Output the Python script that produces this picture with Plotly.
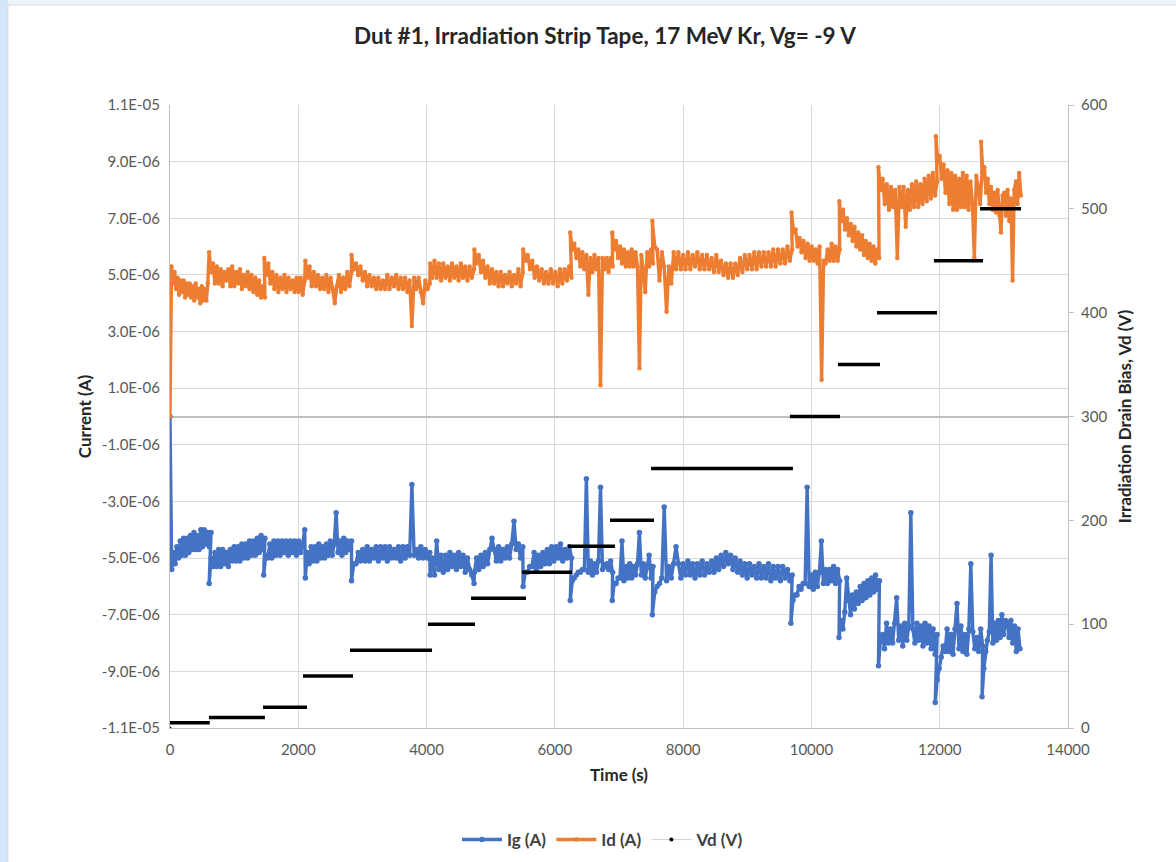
import numpy as np
import plotly.graph_objects as go

# ---------------- data (currents in units of 1E-06 A) ----------------
ID_START = [0, 610, 1470, 2110, 2830, 4055, 4745, 5505, 6240, 6895, 7520, 9690, 10435, 11045, 11940, 12645]
ID_END = [590, 1480, 2100, 2830, 4050, 4740, 5500, 6260, 6900, 7530, 9700, 10440, 11055, 11960, 12660, 13265]
ID_VALUES = [
    [0.0, 5.3, 4.7, 5.1, 4.5, 4.9, 4.3, 4.8, 4.4, 4.8, 4.2, 4.7, 4.3, 4.7, 4.2, 4.6, 4.1, 4.7, 4.2, 4.5, 4.0, 4.6, 4.1, 4.5, 4.1, 4.7],
    [5.8, 5.1, 5.4, 4.7, 5.3, 4.7, 5.2, 4.6, 5.1, 4.8, 5.2, 4.6, 5.3, 4.6, 5.1, 4.7, 5.2, 4.5, 5.0, 4.6, 5.1, 4.5, 5.0, 4.4, 4.9, 4.3, 4.8, 4.2, 4.6, 4.2],
    [5.6, 5.0, 5.4, 4.7, 5.1, 4.5, 5.0, 4.4, 4.9, 4.5, 5.0, 4.4, 4.9, 4.5, 4.8, 4.4, 4.9, 4.4, 4.9, 4.3, 4.8],
    [5.5, 4.9, 5.3, 4.6, 5.1, 4.6, 5.0, 4.5, 4.9, 4.5, 5.0, 4.4, 4.9, 4.5, 4.0, 4.6, 5.0, 4.4, 4.9, 4.5, 5.1, 4.6, 5.1],
    [5.7, 5.2, 5.4, 5.0, 5.3, 4.8, 5.1, 4.6, 5.0, 4.6, 4.9, 4.5, 4.9, 4.5, 4.8, 4.5, 5.0, 4.5, 4.9, 4.6, 5.0, 4.5, 4.9, 4.5, 4.9, 4.4, 4.8, 3.2, 4.9, 4.5, 4.9, 4.4, 4.0, 4.8, 4.5, 4.7],
    [5.4, 4.9, 5.5, 4.9, 5.4, 4.8, 5.4, 4.9, 5.3, 4.8, 5.4, 4.9, 5.3, 4.8, 5.4, 4.9, 5.3, 4.8, 5.3, 4.9, 5.2],
    [5.9, 5.4, 5.7, 5.1, 5.5, 4.9, 5.3, 4.7, 5.2, 4.7, 5.1, 4.6, 5.1, 4.6, 5.0, 4.7, 5.1, 4.6, 5.0, 4.7, 5.2, 4.6, 5.1],
    [5.9, 5.5, 5.7, 5.2, 5.5, 4.9, 5.3, 4.8, 5.2, 4.7, 5.1, 4.7, 5.2, 4.7, 5.1, 4.6, 5.2, 4.7, 5.2, 4.8, 5.3, 4.9],
    [6.5, 5.9, 6.1, 5.6, 5.9, 5.3, 5.8, 5.2, 5.7, 4.3, 5.6, 5.1, 5.7, 5.2, 5.6, 1.1, 5.6, 5.2, 5.6, 5.1, 5.6, 5.3],
    [6.5, 5.9, 6.2, 5.6, 6.0, 5.4, 5.9, 5.3, 5.8, 5.3, 5.9, 5.3, 5.8, 5.3, 1.7, 5.7, 5.2, 4.4, 5.8, 5.3, 5.9, 5.4],
    [6.9, 6.0, 5.9, 4.8, 5.8, 5.3, 3.7, 5.3, 4.7, 5.8, 5.2, 5.8, 5.2, 5.7, 5.2, 5.8, 5.2, 5.7, 5.3, 5.8, 5.2, 5.7, 5.2, 5.7, 5.2, 5.6, 5.1, 5.7, 5.1, 5.5,
     5.0, 5.4, 4.9, 5.4, 4.9, 5.4, 5.0, 5.6, 5.1, 5.7, 5.2, 5.7, 5.2, 5.8, 5.2, 5.8, 5.3, 5.8, 5.3, 5.8, 5.3, 5.9, 5.3, 5.9, 5.4, 5.9, 5.4, 6.0, 5.5, 5.9],
    [7.2, 6.5, 6.6, 6.0, 6.3, 5.8, 6.2, 5.6, 6.1, 5.5, 6.0, 5.5, 5.9, 5.4, 6.0, 1.3, 5.5, 5.4, 5.9, 5.5, 6.1, 5.5, 6.0, 5.5, 5.9],
    [7.6, 6.9, 7.3, 6.6, 7.0, 6.4, 6.8, 6.2, 6.7, 6.0, 6.5, 5.9, 6.4, 5.7, 6.2, 5.6, 6.1, 5.5, 6.0, 5.4, 5.9, 5.6],
    [8.8, 8.0, 8.4, 7.5, 8.2, 7.3, 8.1, 7.4, 8.0, 5.6, 8.1, 7.4, 8.1, 6.7, 8.0, 7.3, 8.2, 7.4, 8.3, 7.4, 8.2, 7.5, 8.4, 7.6, 8.5, 7.7, 8.6, 7.8, 8.3],
    [9.9, 9.0, 9.2, 8.4, 8.9, 7.9, 8.7, 7.5, 8.6, 7.3, 8.5, 7.3, 8.4, 7.4, 8.6, 7.4, 8.5, 7.3, 8.3, 7.5, 5.6, 8.5, 8.1, 7.5, 8.6],
    [9.7, 8.7, 8.8, 7.9, 8.4, 7.5, 8.1, 7.3, 7.9, 7.2, 8.0, 7.1, 6.5, 7.8, 7.9, 7.1, 8.0, 6.9, 7.7, 4.8, 8.0, 8.3, 7.5, 8.6, 7.8],
]

IG_START = [0, 610, 1460, 2110, 2830, 4055, 4745, 5505, 6240, 6895, 7520, 9680, 10430, 11045, 11930, 12660]
IG_END = [640, 1480, 2100, 2830, 4050, 4740, 5500, 6260, 6900, 7530, 9700, 10440, 11060, 11960, 12670, 13250]
IG_VALUES = [
    [0.0, -5.4, -4.8, -5.2, -4.6, -5.0, -4.4, -4.9, -4.3, -4.9, -4.3, -4.8, -4.2, -4.7, -4.1, -4.7, -4.2, -4.7, -4.0, -4.6, -4.0, -4.5, -4.1, -4.6, -4.1],
    [-5.9, -5.0, -5.3, -4.8, -5.3, -4.7, -5.3, -4.7, -5.2, -4.8, -5.3, -4.7, -5.1, -4.6, -5.1, -4.6, -5.1, -4.5, -5.0, -4.5, -5.0, -4.4, -4.9, -4.4, -4.9, -4.3, -4.8, -4.2, -4.7, -4.3],
    [-5.6, -4.9, -5.0, -4.5, -5.0, -4.4, -4.9, -4.4, -4.9, -4.4, -4.8, -4.4, -4.9, -4.4, -4.8, -4.4, -4.9, -4.4, -4.8, -4.5, -4.0],
    [-5.7, -4.8, -5.2, -4.6, -5.1, -4.6, -5.1, -4.5, -5.0, -4.6, -5.0, -4.5, -4.9, -4.4, -4.9, -4.5, -3.4, -4.8, -4.4, -4.9, -4.3, -4.8, -4.4, -4.7, -4.4],
    [-5.8, -5.2, -5.2, -4.8, -5.1, -4.7, -5.1, -4.6, -5.1, -4.7, -5.0, -4.6, -5.1, -4.6, -5.0, -4.6, -5.1, -4.6, -5.0, -4.7, -5.0, -4.6, -5.1, -4.6, -5.0, -4.6, -4.9, -2.4, -4.9, -4.7, -5.0, -4.6, -5.0, -4.7, -5.0, -4.8],
    [-5.6, -5.0, -5.6, -4.4, -5.4, -4.9, -5.5, -4.9, -5.4, -4.8, -5.3, -4.9, -5.4, -4.8, -5.3, -4.9, -5.5, -5.0, -5.4, -5.6, -5.9],
    [-5.5, -5.0, -5.4, -4.9, -5.3, -4.8, -5.2, -4.7, -4.3, -4.7, -5.1, -4.6, -5.1, -4.7, -5.0, -4.6, -5.0, -4.5, -3.7, -4.7, -4.5, -5.0, -4.6],
    [-6.0, -5.5, -5.5, -5.3, -5.3, -4.8, -5.4, -4.9, -5.3, -4.8, -5.2, -4.7, -5.2, -4.6, -5.1, -4.6, -5.0, -4.5, -5.1, -4.7, -5.0, -4.6, -5.0],
    [-6.5, -5.8, -5.7, -5.6, -5.5, -5.5, -5.4, -5.4, -2.2, -5.5, -5.1, -5.6, -5.2, -5.5, -5.1, -2.5, -5.4, -5.3, -5.2, -5.4, -5.1, -5.5],
    [-6.5, -5.9, -5.9, -5.7, -5.7, -4.4, -5.8, -5.3, -5.7, -5.2, -5.7, -5.3, -5.6, -5.2, -4.1, -5.6, -5.2, -5.7, -5.3, -4.9, -5.7, -5.3],
    [-7.0, -6.2, -6.0, -5.9, -5.7, -3.2, -5.8, -5.3, -5.7, -5.2, -4.6, -5.2, -5.7, -5.2, -5.6, -5.1, -5.6, -5.2, -5.7, -5.2, -5.6, -5.1, -5.6, -5.2, -5.5, -5.1, -5.5, -5.0, -5.4, -4.9,
     -5.3, -4.8, -5.2, -4.9, -5.4, -5.0, -5.5, -5.1, -5.6, -5.2, -5.7, -5.2, -5.6, -5.3, -5.7, -5.2, -5.7, -5.3, -5.7, -5.2, -5.8, -5.3, -5.7, -5.3, -5.8, -5.3, -5.7, -5.4, -5.8, -5.6],
    [-7.3, -6.5, -6.3, -6.3, -6.0, -6.1, -5.9, -5.9, -2.5, -6.0, -5.6, -6.1, -5.5, -6.0, -5.5, -4.4, -5.9, -5.4, -5.9, -5.4, -5.8, -5.3, -5.9, -5.4, -5.8],
    [-7.8, -7.2, -7.5, -6.9, -5.7, -6.5, -7.0, -6.3, -6.8, -6.2, -6.6, -6.0, -6.5, -5.9, -6.4, -5.8, -6.3, -5.7, -6.2, -5.6, -6.1, -5.8],
    [-8.8, -7.9, -7.7, -8.2, -7.3, -8.0, -7.5, -8.0, -7.3, -6.4, -7.9, -7.4, -8.1, -7.3, -7.9, -7.4, -3.4, -7.5, -8.0, -7.3, -7.9, -7.4, -8.1, -7.3, -8.0, -7.4, -8.2, -7.5, -8.4, -7.7],
    [-10.1, -9.3, -8.9, -8.5, -8.1, -8.3, -7.5, -8.3, -7.7, -8.4, -7.5, -6.6, -8.2, -7.4, -8.3, -7.7, -8.4, -7.5, -5.2, -7.6, -8.2, -7.8, -8.3, -7.5, -8.1],
    [-9.9, -8.9, -8.3, -7.9, -7.6, -4.9, -8.0, -7.3, -7.9, -7.2, -7.8, -7.0, -7.7, -7.2, -7.3, -7.8, -7.2, -8.0, -7.4, -8.3, -7.5, -8.2],
]

VD_START = [0, 608, 1450, 2074, 2806, 4022, 4693, 5488, 6205, 6860, 7499, 9665, 10414, 11022, 11910, 12628]
VD_END = [620, 1481, 2136, 2853, 4085, 4755, 5550, 6267, 6937, 7545, 9712, 10445, 11069, 11957, 12675, 13267]
VD_LEVELS = [5, 10, 20, 50, 75, 100, 125, 150, 175, 200, 250, 300, 350, 400, 450, 500]

Y_TICK_VALUES = [-11, -9, -7, -5, -3, -1, 1, 3, 5, 7, 9, 11]
Y_TICK_LABELS = ["-1.1E-05", "-9.0E-06", "-7.0E-06", "-5.0E-06", "-3.0E-06", "-1.0E-06",
                 "1.0E-06", "3.0E-06", "5.0E-06", "7.0E-06", "9.0E-06", "1.1E-05"]

# ---------------- build series ----------------
def build(starts, ends, values):
    xs, ys = [], []
    for t0, t1, vals in zip(starts, ends, values):
        xs.extend(np.linspace(t0, t1, len(vals)).tolist())
        ys.extend([v * 1e-6 for v in vals])
    return xs, ys

ig_x, ig_y = build(IG_START, IG_END, IG_VALUES)
id_x, id_y = build(ID_START, ID_END, ID_VALUES)

vd_x, vd_y = [], []
for t0, t1, lv in zip(VD_START, VD_END, VD_LEVELS):
    vd_x += [t0, t1, None]
    vd_y += [lv, lv, None]

BLUE = "#4472C4"
ORANGE = "#ED7D31"
FONT = "Lato"

fig = go.Figure()
fig.add_trace(go.Scatter(x=ig_x, y=ig_y, mode="lines+markers", name="Ig (A)",
                         line=dict(color=BLUE, width=3.4), marker=dict(color=BLUE, size=5.5)))
fig.add_trace(go.Scatter(x=id_x, y=id_y, mode="lines+markers", name="Id (A)",
                         line=dict(color=ORANGE, width=3.4), marker=dict(color=ORANGE, size=4.5)))
fig.add_trace(go.Scatter(x=vd_x, y=vd_y, mode="lines", yaxis="y2", showlegend=False,
                         line=dict(color="black", width=3.5)))
fig.add_trace(go.Scatter(x=[0], y=[0], mode="markers", yaxis="y2", showlegend=False,
                         marker=dict(color="black", size=3)))
fig.add_trace(go.Scatter(x=[None], y=[None], mode="lines+markers", name="Vd (V)", yaxis="y2",
                         line=dict(color="#d0d0d0", width=1), marker=dict(color="black", size=4)))

# plot area: left 170, right 1068, top 105, bottom 728 (px)
def px_x(p):
    return (p - 170) / 898.0

def px_y(p):
    return (728 - p) / 623.0

shapes = [
    dict(type="rect", xref="paper", yref="paper", x0=px_x(0), x1=px_x(8), y0=px_y(862), y1=px_y(0),
         fillcolor="#d3e5f9", line=dict(width=0), layer="below"),
    dict(type="rect", xref="paper", yref="paper", x0=px_x(8), x1=px_x(1180), y0=px_y(5), y1=px_y(0),
         fillcolor="#eef4fb", line=dict(width=0), layer="below"),
    dict(type="rect", xref="paper", yref="paper", x0=px_x(8), x1=px_x(1180), y0=px_y(866), y1=px_y(5),
         fillcolor="rgba(0,0,0,0)", line=dict(color="#d9d9d9", width=1), layer="below"),
]

axis_title_font = dict(family=FONT, size=17, color="#262626", weight="bold")
tick_font = dict(family=FONT, size=15, color="#595959")

fig.update_layout(
    width=1176, height=862,
    margin=dict(l=170, r=108, t=105, b=134),
    paper_bgcolor="white", plot_bgcolor="white",
    font=dict(family=FONT),
    title=dict(text="<b>Dut #1, Irradiation Strip Tape, 17 MeV Kr, Vg= -9 V</b>",
               x=605 / 1176, xanchor="center", y=1 - 36 / 862, yanchor="middle",
               font=dict(family=FONT, size=22.5, color="#262626")),
    xaxis=dict(range=[0, 14000], tick0=0, dtick=2000, tickformat="d", showgrid=True, gridcolor="#d9d9d9",
               showline=True, linecolor="#bfbfbf", zeroline=False, ticks="", ticklabelstandoff=8,
               tickfont=tick_font, title=dict(text="Time (s)", font=axis_title_font, standoff=12)),
    yaxis=dict(range=[-1.1e-5, 1.1e-5], tickvals=[v * 1e-6 for v in Y_TICK_VALUES], ticktext=Y_TICK_LABELS,
               showgrid=True, gridcolor="#d9d9d9", showline=True, linecolor="#bfbfbf",
               zeroline=True, zerolinecolor="#bfbfbf", zerolinewidth=1.5, ticks="", ticklabelstandoff=6,
               tickfont=tick_font, title=dict(text="Current (A)", font=axis_title_font, standoff=5)),
    yaxis2=dict(range=[0, 600], tick0=0, dtick=100, overlaying="y", side="right",
                showgrid=False, showline=True, linecolor="#bfbfbf", zeroline=False,
                ticks="outside", ticklen=5, tickcolor="#bfbfbf", ticklabelstandoff=4,
                tickfont=tick_font, title=dict(text="Irradiation Drain Bias, Vd (V)", font=axis_title_font, standoff=12)),
    legend=dict(orientation="h", x=px_x(603), xanchor="center", yref="container", y=1 - 840 / 862,
                yanchor="middle", font=dict(family=FONT, size=17, color="#404040", weight="bold"),
                bgcolor="rgba(0,0,0,0)", itemwidth=40),
    shapes=shapes,
    showlegend=True,
)

fig.write_html("out.html")
